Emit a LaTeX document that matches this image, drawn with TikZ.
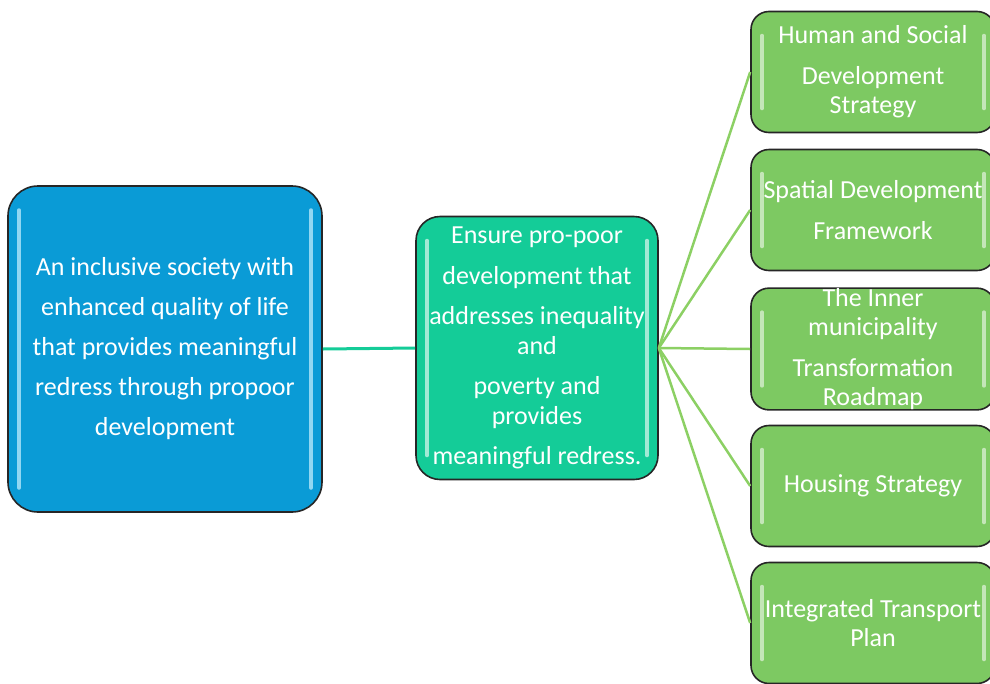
\documentclass[tikz,border=0pt]{standalone}
\usepackage{fontspec}
\setmainfont{Carlito}
\usepackage{tikz}
\usetikzlibrary{
	positioning,									% 节点的高级摆放
}
\definecolor{goalblue}{RGB}{10,155,214}
\definecolor{aimteal}{RGB}{20,204,152}
\definecolor{planleaf}{RGB}{125,201,98}
\definecolor{linkgreen}{RGB}{140,208,100}
\tikzset{
	gloss/.style={%光泽条
		path picture={
			\draw[#1, line width=3.5pt, line cap=round]
				([xshift=11pt,yshift=-24pt]path picture bounding box.north west) --
				([xshift=11pt,yshift=24pt]path picture bounding box.south west);
			\draw[#1, line width=3.5pt, line cap=round]
				([xshift=-11pt,yshift=-24pt]path picture bounding box.north east) --
				([xshift=-11pt,yshift=24pt]path picture bounding box.south east);
		}},
	box/.style={draw=black!85, line width=1.6pt, text=white, align=center, inner sep=0pt},
	goalbox/.style={box, fill=goalblue, rounded corners=30pt, minimum width=314pt, minimum height=326pt,
		gloss={cyan!30!white, opacity=.8}, font={\fontsize{26}{40}\selectfont}},
	aimbox/.style={box, fill=aimteal, rounded corners=24pt, minimum width=242pt, minimum height=263pt,
		gloss={white, opacity=.6}, font={\fontsize{26}{29.5}\selectfont}},
	planbox/.style={box, fill=planleaf, rounded corners=18pt, minimum width=244pt, minimum height=121pt,
		gloss={white, opacity=.55}, font={\fontsize{26}{29.5}\selectfont}},
}
\begin{document}
\begin{tikzpicture}[x=1pt, y=-1pt]
		\useasboundingbox (0,0) rectangle (990,683);
		\node[goalbox] (goal) at (165,349) {An inclusive society with\\enhanced quality of life\\that provides meaningful\\redress through propoor\\development};
		\node[aimbox] (aim) at (537,348) {Ensure pro-poor\\[11pt]development that\\[11pt]addresses inequality\\and\\[11pt]poverty and\\provides\\[11pt]meaningful redress.};
		\node[planbox] (hs) at (873,72) {Human and Social\\[11pt]Development\\Strategy};
		\node[planbox] (sd) at (873,210) {Spatial Development\\[11pt]Framework};
		\node[planbox] (im) at (873,349) {The Inner\\municipality\\[11pt]Transformation\\Roadmap};
		\node[planbox] (ho) at (873,486) {Housing Strategy};
		\node[planbox] (tp) at (873,623) {Integrated Transport\\Plan};
		\draw[aimteal, line width=3pt] (goal.east) -- (aim.west);
		\foreach \n in {hs,sd,im,ho,tp}
			\draw[linkgreen, line width=2.5pt] (aim.east) -- (\n.west);
	\end{tikzpicture}
\end{document}
